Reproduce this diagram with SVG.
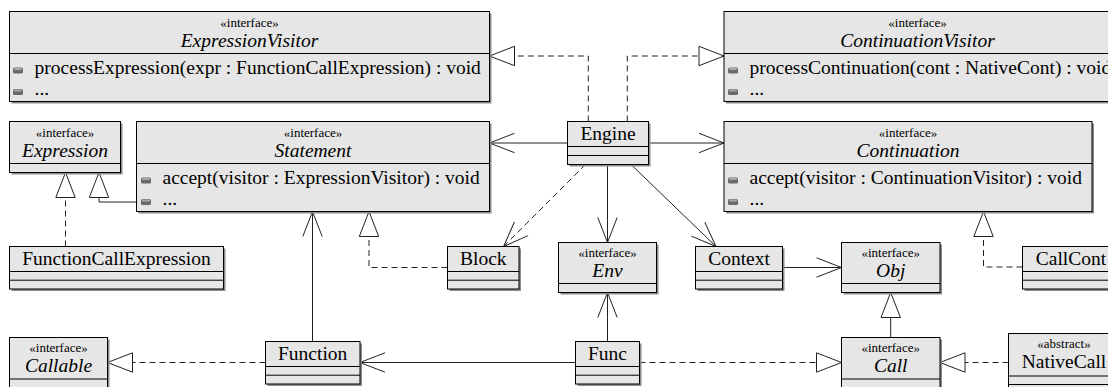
<svg xmlns="http://www.w3.org/2000/svg" xmlns:xlink="http://www.w3.org/1999/xlink" width="1108" height="387" viewBox="0 0 1108 387">
<style>
.sh{fill:#8c8c8c}
.bx{fill:#e6e6e6;stroke:#000;stroke-width:1}
.dv{stroke:#000;stroke-width:1}
.st{font-family:"Liberation Serif",serif;font-size:13px;text-anchor:middle;fill:#000}
.nm{font-family:"Liberation Serif",serif;font-size:19.5px;text-anchor:middle;fill:#000}
.it{font-style:italic}
.mb{font-family:"Liberation Serif",serif;font-size:19.5px;fill:#000}
.ln{fill:none;stroke:#222;stroke-width:1}
.ds{stroke-dasharray:6,4}
</style>
<defs>
<g id="op"><rect x="0" y="0" width="10" height="6" rx="1.5" fill="#6a6a6a"/><rect x="1" y="0.6" width="8" height="1.8" rx="0.8" fill="#a8a8a8"/></g>
<marker id="open" markerUnits="userSpaceOnUse" orient="auto" refX="0" refY="0" markerWidth="30" markerHeight="30" style="overflow:visible"><path d="M-25,-9.7 L0,0 L-25,9.7" fill="none" stroke="#222" stroke-width="1"/></marker>
<marker id="tri" markerUnits="userSpaceOnUse" orient="auto" refX="0" refY="0" markerWidth="30" markerHeight="30" style="overflow:visible"><path d="M-25,-9.7 L0,0 L-25,9.7 Z" fill="#fff" stroke="#222" stroke-width="1"/></marker>
</defs>
<rect width="1108" height="387" fill="#fff"/>

<g id="connectors">
<path class="ln ds" d="M588.3,121.5 V56 H489.5" marker-end="url(#tri)"/>
<path class="ln ds" d="M627.3,121.5 V56 H724" marker-end="url(#tri)"/>
<path class="ln" d="M567.5,143 H489.5" marker-end="url(#open)"/>
<path class="ln" d="M648.5,143 H724" marker-end="url(#open)"/>
<path class="ln ds" d="M585.5,164.5 L503.6,246.5" marker-end="url(#open)"/>
<path class="ln" d="M607.5,164.5 V242.5" marker-end="url(#open)"/>
<path class="ln" d="M631,164.5 L716,246.5" marker-end="url(#open)"/>
<path class="ln" d="M782.5,267.5 H841.5" marker-end="url(#open)"/>
<path class="ln ds" d="M65.5,246.5 V172.5" marker-end="url(#tri)"/>
<path class="ln" d="M136.5,202 H99 V172.5" marker-end="url(#tri)"/>
<path class="ln ds" d="M447.5,267.5 H369 V211.5" marker-end="url(#tri)"/>
<path class="ln" d="M312.5,341.5 V211.5" marker-end="url(#open)"/>
<path class="ln ds" d="M265.5,362.5 H107.5" marker-end="url(#tri)"/>
<path class="ln" d="M575.5,362.5 H360" marker-end="url(#open)"/>
<path class="ln" d="M607.5,341.5 V292.5" marker-end="url(#open)"/>
<path class="ln ds" d="M639.5,362.5 H841.5" marker-end="url(#tri)"/>
<path class="ln" d="M890.7,337.5 V292.5" marker-end="url(#tri)"/>
<path class="ln ds" d="M1008.5,362.5 H940" marker-end="url(#tri)"/>
<path class="ln ds" d="M1022.5,267 H983.5 V211.5" marker-end="url(#tri)"/>
</g>

<g id="ExpressionVisitor">
<rect class="sh" x="11.5" y="13.5" width="480" height="90"/>
<rect class="bx" x="9.5" y="11.5" width="480" height="90"/>
<line class="dv" x1="9.5" y1="53.5" x2="489.5" y2="53.5"/>
<text class="st" x="249.5" y="27">«interface»</text>
<text class="nm it" x="249.5" y="46.5">ExpressionVisitor</text>
<use xlink:href="#op" x="13" y="67.5"/>
<text class="mb" x="34.6" y="73.5">processExpression(expr : FunctionCallExpression) : void</text>
<use xlink:href="#op" x="13" y="89"/>
<text class="mb" x="34.6" y="95">...</text>
</g>

<g id="ContinuationVisitor">
<rect class="sh" x="726" y="13.5" width="387" height="90"/>
<rect class="bx" x="724" y="11.5" width="387" height="90"/>
<line class="dv" x1="724" y1="53.5" x2="1111" y2="53.5"/>
<text class="st" x="917.5" y="27">«interface»</text>
<text class="nm it" x="917.5" y="46.5">ContinuationVisitor</text>
<use xlink:href="#op" x="728" y="67.5"/>
<text class="mb" x="749.5" y="73.5">processContinuation(cont : NativeCont) : void</text>
<use xlink:href="#op" x="728" y="89"/>
<text class="mb" x="749.5" y="95">...</text>
</g>

<g id="Expression">
<rect class="sh" x="11.5" y="123.5" width="111" height="51"/>
<rect class="bx" x="9.5" y="121.5" width="111" height="51"/>
<line class="dv" x1="9.5" y1="163.5" x2="120.5" y2="163.5"/>
<text class="st" x="65" y="137">«interface»</text>
<text class="nm it" x="65" y="156.5">Expression</text>
</g>

<g id="Statement">
<rect class="sh" x="138.5" y="123.5" width="353" height="90"/>
<rect class="bx" x="136.5" y="121.5" width="353" height="90"/>
<line class="dv" x1="136.5" y1="163.5" x2="489.5" y2="163.5"/>
<text class="st" x="313" y="137">«interface»</text>
<text class="nm it" x="313" y="156.5">Statement</text>
<use xlink:href="#op" x="141" y="177.5"/>
<text class="mb" x="162.5" y="183.5">accept(visitor : ExpressionVisitor) : void</text>
<use xlink:href="#op" x="141" y="199"/>
<text class="mb" x="162.5" y="205">...</text>
</g>

<g id="Engine">
<rect class="sh" x="569.5" y="123.5" width="81" height="43"/>
<rect class="bx" x="567.5" y="121.5" width="81" height="43"/>
<line class="dv" x1="567.5" y1="146.5" x2="648.5" y2="146.5"/>
<line class="dv" x1="567.5" y1="155.5" x2="648.5" y2="155.5"/>
<text class="nm" x="608" y="140">Engine</text>
</g>

<g id="Continuation">
<rect class="sh" x="726" y="123.5" width="368" height="90"/>
<rect class="bx" x="724" y="121.5" width="368" height="90"/>
<line class="dv" x1="724" y1="163.5" x2="1092" y2="163.5"/>
<text class="st" x="908" y="137">«interface»</text>
<text class="nm it" x="908" y="156.5">Continuation</text>
<use xlink:href="#op" x="728" y="177.5"/>
<text class="mb" x="749.5" y="183.5">accept(visitor : ContinuationVisitor) : void</text>
<use xlink:href="#op" x="728" y="199"/>
<text class="mb" x="749.5" y="205">...</text>
</g>

<g id="FunctionCallExpression">
<rect class="sh" x="11.5" y="248.5" width="214" height="42.5"/>
<rect class="bx" x="9.5" y="246.5" width="214" height="42.5"/>
<line class="dv" x1="9.5" y1="271.5" x2="223.5" y2="271.5"/>
<line class="dv" x1="9.5" y1="280.2" x2="223.5" y2="280.2"/>
<text class="nm" x="116.5" y="265">FunctionCallExpression</text>
</g>

<g id="Block">
<rect class="sh" x="449.5" y="248.5" width="71.5" height="42.5"/>
<rect class="bx" x="447.5" y="246.5" width="71.5" height="42.5"/>
<line class="dv" x1="447.5" y1="271.5" x2="519" y2="271.5"/>
<line class="dv" x1="447.5" y1="280.2" x2="519" y2="280.2"/>
<text class="nm" x="483.3" y="265">Block</text>
</g>

<g id="Env">
<rect class="sh" x="560.5" y="244.5" width="98" height="50"/>
<rect class="bx" x="558.5" y="242.5" width="98" height="50"/>
<line class="dv" x1="558.5" y1="283.5" x2="656.5" y2="283.5"/>
<text class="st" x="607.5" y="256.5">«interface»</text>
<text class="nm it" x="607.5" y="276.5">Env</text>
</g>

<g id="Context">
<rect class="sh" x="697.5" y="248.5" width="87" height="42.5"/>
<rect class="bx" x="695.5" y="246.5" width="87" height="42.5"/>
<line class="dv" x1="695.5" y1="271.5" x2="782.5" y2="271.5"/>
<line class="dv" x1="695.5" y1="280.2" x2="782.5" y2="280.2"/>
<text class="nm" x="739" y="265">Context</text>
</g>

<g id="Obj">
<rect class="sh" x="843.5" y="244.5" width="98.5" height="50"/>
<rect class="bx" x="841.5" y="242.5" width="98.5" height="50"/>
<line class="dv" x1="841.5" y1="283.5" x2="940" y2="283.5"/>
<text class="st" x="890.7" y="256.5">«interface»</text>
<text class="nm it" x="890.7" y="276.5">Obj</text>
</g>

<g id="CallCont">
<rect class="sh" x="1024.5" y="248.5" width="97" height="42.5"/>
<rect class="bx" x="1022.5" y="246.5" width="97" height="42.5"/>
<line class="dv" x1="1022.5" y1="271.5" x2="1119.5" y2="271.5"/>
<line class="dv" x1="1022.5" y1="280.2" x2="1119.5" y2="280.2"/>
<text class="nm" x="1071" y="265">CallCont</text>
</g>

<g id="Callable">
<rect class="sh" x="11.5" y="339.5" width="98" height="60"/>
<rect class="bx" x="9.5" y="337.5" width="98" height="60"/>
<line class="dv" x1="9.5" y1="379" x2="107.5" y2="379"/>
<text class="st" x="58.5" y="351.5">«interface»</text>
<text class="nm it" x="58.5" y="371.5">Callable</text>
</g>

<g id="Function">
<rect class="sh" x="267.5" y="343.5" width="94.5" height="42.5"/>
<rect class="bx" x="265.5" y="341.5" width="94.5" height="42.5"/>
<line class="dv" x1="265.5" y1="366.5" x2="360" y2="366.5"/>
<line class="dv" x1="265.5" y1="375.2" x2="360" y2="375.2"/>
<text class="nm" x="312.7" y="360">Function</text>
</g>

<g id="Func">
<rect class="sh" x="577.5" y="343.5" width="64" height="42.5"/>
<rect class="bx" x="575.5" y="341.5" width="64" height="42.5"/>
<line class="dv" x1="575.5" y1="366.5" x2="639.5" y2="366.5"/>
<line class="dv" x1="575.5" y1="375.2" x2="639.5" y2="375.2"/>
<text class="nm" x="607.5" y="360">Func</text>
</g>

<g id="Call">
<rect class="sh" x="843.5" y="339.5" width="98.5" height="60"/>
<rect class="bx" x="841.5" y="337.5" width="98.5" height="60"/>
<line class="dv" x1="841.5" y1="379" x2="940" y2="379"/>
<text class="st" x="890.7" y="351.5">«interface»</text>
<text class="nm it" x="890.7" y="371.5">Call</text>
</g>

<g id="NativeCall">
<rect class="sh" x="1010.5" y="335.5" width="111" height="60"/>
<rect class="bx" x="1008.5" y="333.5" width="111" height="60"/>
<line class="dv" x1="1008.5" y1="376" x2="1119.5" y2="376"/>
<line class="dv" x1="1008.5" y1="384.5" x2="1119.5" y2="384.5"/>
<text class="st" x="1064" y="347.5">«abstract»</text>
<text class="nm" x="1064" y="368">NativeCall</text>
</g>
</svg>
